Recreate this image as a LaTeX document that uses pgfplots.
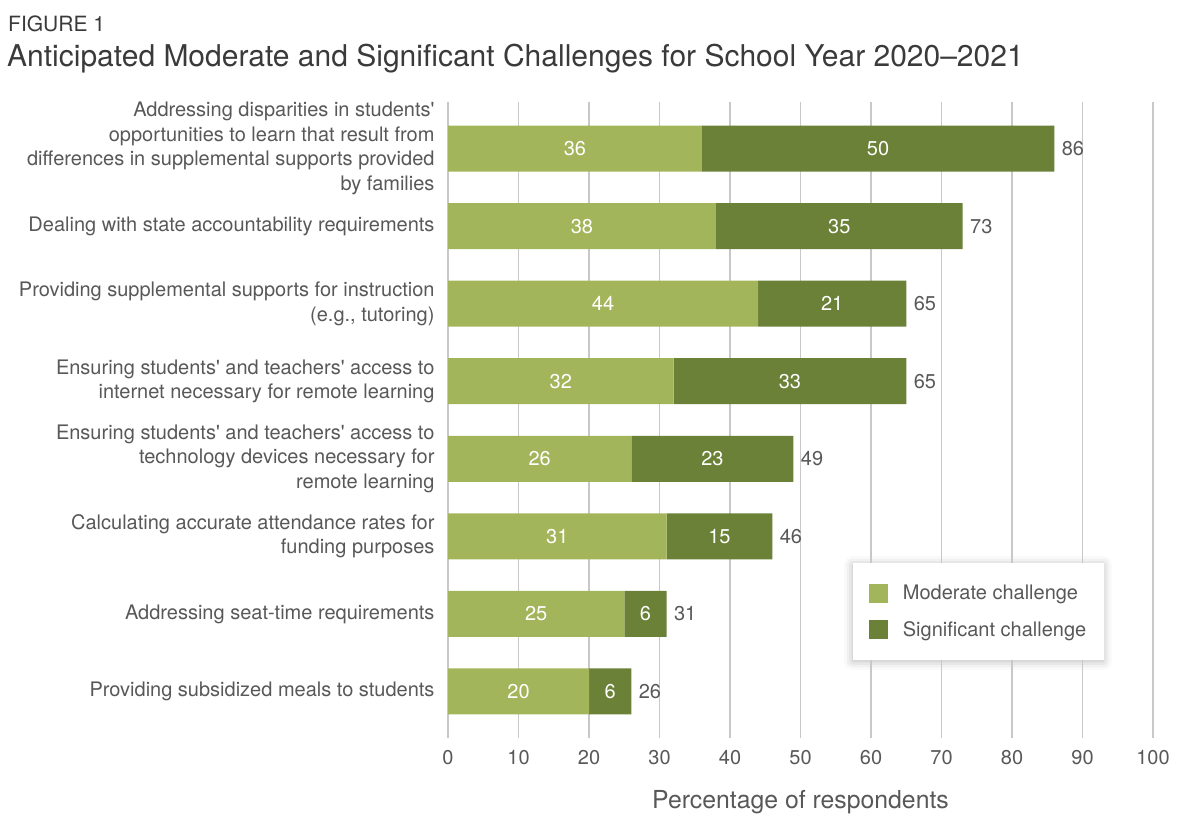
\documentclass[border=0pt]{standalone}
\usepackage{fontspec}
\setmainfont{TeX Gyre Heros}
\usepackage{pgfplots}
\usepackage{pgfplotstable}
\pgfplotsset{compat=1.18}
\usetikzlibrary{shadows.blur}

\definecolor{modc}{HTML}{A3B55B}
\definecolor{sigc}{HTML}{6A8137}
\definecolor{txt}{HTML}{585858}
\definecolor{ttl}{HTML}{3A3A3A}
\definecolor{gridc}{HTML}{C8C8C8}

\newcommand{\lblfont}{\fontsize{20bp}{24.5bp}\selectfont}

% moderate, significant, total
\pgfplotstableread{
idx mod sig tot tiny
0 36 50 86 0.001
1 38 35 73 0.001
2 44 21 65 0.001
3 32 33 65 0.001
4 26 23 49 0.001
5 31 15 46 0.001
6 25 6 31 0.001
7 20 6 26 0.001
}\data

\begin{document}
\begin{tikzpicture}[x=1bp, y=1bp]
\path[use as bounding box] (0,0) rectangle (1200,836);
\node[anchor=base west, inner sep=0, text=ttl, font=\fontsize{21bp}{25bp}\selectfont] at (8,804) {FIGURE 1};
\node[anchor=base west, inner sep=0, text=ttl, font=\fontsize{30bp}{35bp}\selectfont] at (7,769)
  {Anticipated Moderate and Significant Challenges for School Year 2020–2021};
% legend shadow box
\fill[white, blur shadow={shadow xshift=0bp, shadow yshift=-2bp, shadow blur radius=9bp, shadow opacity=30}]
  (853,177) rectangle (1103,273);

\begin{axis}[
  at={(448bp,98bp)}, anchor=south west,
  scale only axis, width=705bp, height=636bp,
  xbar stacked, bar width=0.593,
  xmin=0, xmax=100, ymin=-0.6, ymax=7.6, y dir=reverse,
  xtick={0,10,...,100}, ytick={0,...,7},
  yticklabels={
    {Addressing disparities in students\textquotesingle\\opportunities to learn that result from\\differences in supplemental supports provided\\by families},
    {Dealing with state accountability requirements},
    {Providing supplemental supports for instruction\\(e.g., tutoring)},
    {Ensuring students\textquotesingle{} and teachers\textquotesingle{} access to\\internet necessary for remote learning},
    {Ensuring students\textquotesingle{} and teachers\textquotesingle{} access to\\technology devices necessary for\\remote learning},
    {Calculating accurate attendance rates for\\funding purposes},
    {Addressing seat-time requirements},
    {Providing subsidized meals to students}},
  xmajorgrids, grid style={gridc, line width=1.4bp},
  axis line style={draw=none}, major tick length=0,
  tick label style={font=\lblfont, text=txt},
  /pgf/number format/assume math mode=true,
  yticklabel style={align=right, xshift=-10bp},
  xticklabel style={yshift=-9bp},
  xlabel={Percentage of respondents},
  xlabel style={at={(axis description cs:0.5,0)}, anchor=base, yshift=-70bp,
    font=\fontsize{24.8bp}{29bp}\selectfont, text=txt},
  legend style={at={(0.574,0.275)}, anchor=north west, draw=none, fill=white,
    font=\lblfont, text=txt, inner xsep=16bp, inner ysep=20bp, row sep=16bp,
    /tikz/every odd column/.append style={column sep=13bp}},
  legend cell align=left,
  legend image code/.code={\fill (15bp,-9.5bp) rectangle (34bp,9.5bp);},
  clip=false,
]
\addplot[fill=modc, draw=none, nodes near coords, point meta=explicit symbolic,
  every node near coord/.style={anchor=center, text=white, font=\lblfont}]
  table[x=mod, y=idx, meta=mod]{\data};
\addlegendentry{Moderate challenge}
\addplot[fill=sigc, draw=none, nodes near coords, point meta=explicit symbolic,
  every node near coord/.style={anchor=center, text=white, font=\lblfont}]
  table[x=sig, y=idx, meta=sig]{\data};
\addlegendentry{Significant challenge}
\addplot[draw=none, fill=none, forget plot, nodes near coords, point meta=explicit symbolic,
  every node near coord/.style={anchor=west, xshift=4bp, text=txt, font=\lblfont}]
  table[x=tiny, y=idx, meta=tot]{\data};
\end{axis}
\end{tikzpicture}
\end{document}
